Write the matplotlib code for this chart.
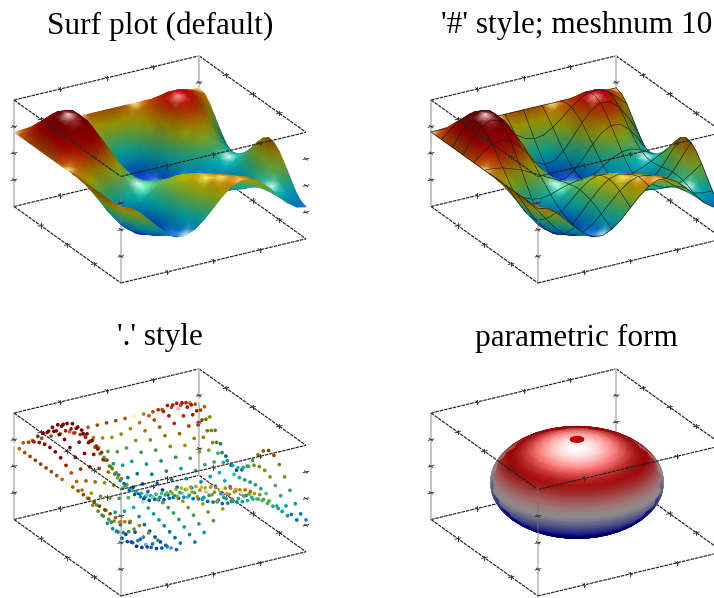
import numpy as np
import matplotlib
matplotlib.use("Agg")
import matplotlib.pyplot as plt
from matplotlib.collections import QuadMesh
from matplotlib.colors import LinearSegmentedColormap
from mpl_toolkits.mplot3d import proj3d

W, H = 714, 598
titles = ["Surf plot (default)", "'#' style; meshnum 10", "'.' style", "parametric form"]

x_values = [0.00, 0.05, 0.10, 0.15, 0.20, 0.25, 0.30, 0.35, 0.40, 0.45, 0.50,
            0.55, 0.60, 0.65, 0.70, 0.75, 0.80, 0.85, 0.90, 0.95, 1.00]
y_values = list(x_values)

z_row_00 = [.40, .40, .40, .40, .40, .40, .40, .40, .40, .40, .40, .40, .40, .40, .40, .40, .40, .40, .40, .40, .40]
z_row_01 = [.40, .48, .55, .58, .57, .53, .45, .37, .28, .23, .20, .22, .28, .35, .44, .51, .55, .55, .52, .45, .36]
z_row_02 = [.40, .56, .68, .75, .73, .64, .49, .32, .16, .05, .00, .03, .13, .27, .43, .55, .63, .63, .55, .41, .24]
z_row_03 = [.40, .62, .79, .87, .85, .72, .51, .28, .05, -.11, -.18, -.15, -.02, .17, .37, .54, .63, .62, .51, .31, .06]
z_row_04 = [.40, .66, .86, .95, .92, .76, .51, .23, -.04, -.25, -.34, -.31, -.17, .05, .28, .47, .57, .55, .41, .17, -.12]
z_row_05 = [.40, .67, .87, .97, .93, .76, .49, .18, -.12, -.34, -.45, -.43, -.29, -.08, .15, .35, .45, .43, .28, .02, -.28]
z_row_06 = [.40, .66, .85, .93, .88, .71, .44, .13, -.17, -.39, -.51, -.50, -.39, -.20, .02, .20, .29, .27, .13, -.10, -.38]
z_row_07 = [.40, .62, .77, .83, .78, .62, .37, .09, -.19, -.40, -.52, -.53, -.44, -.29, -.12, .03, .11, .10, .00, -.18, -.40]
z_row_08 = [.40, .55, .66, .69, .63, .49, .28, .05, -.18, -.37, -.48, -.51, -.46, -.36, -.24, -.13, -.06, -.05, -.10, -.20, -.32]
z_row_09 = [.40, .48, .51, .51, .44, .33, .18, .01, -.16, -.30, -.39, -.44, -.44, -.40, -.34, -.27, -.21, -.18, -.16, -.17, -.18]
z_row_10 = [.40, .39, .36, .30, .24, .15, .06, -.03, -.12, -.21, -.28, -.34, -.38, -.40, -.40, -.37, -.32, -.26, -.18, -.09, .00]
z_row_11 = [.40, .30, .20, .10, .03, -.02, -.05, -.07, -.08, -.11, -.16, -.22, -.29, -.36, -.41, -.43, -.39, -.30, -.17, .00, .18]
z_row_12 = [.40, .22, .05, -.09, -.17, -.19, -.16, -.10, -.05, -.02, -.03, -.09, -.18, -.29, -.38, -.43, -.41, -.31, -.14, .09, .32]
z_row_13 = [.40, .16, -.07, -.24, -.33, -.33, -.26, -.14, -.02, .06, .09, .04, -.06, -.19, -.32, -.39, -.39, -.29, -.11, .14, .40]
z_row_14 = [.40, .12, -.15, -.34, -.44, -.44, -.34, -.18, -.01, .12, .18, .16, .06, -.08, -.21, -.31, -.33, -.25, -.09, .14, .38]
z_row_15 = [.40, .10, -.18, -.40, -.51, -.50, -.39, -.22, -.03, .14, .23, .24, .17, .05, -.09, -.20, -.25, -.21, -.09, .09, .28]
z_row_16 = [.40, .11, -.17, -.39, -.52, -.53, -.43, -.26, -.06, .12, .25, .30, .26, .16, .04, -.08, -.16, -.17, -.11, .00, .12]
z_row_17 = [.40, .15, -.11, -.34, -.47, -.51, -.45, -.30, -.11, .07, .23, .31, .32, .27, .16, .04, -.06, -.13, -.15, -.12, -.06]
z_row_18 = [.40, .20, -.02, -.23, -.39, -.46, -.44, -.34, -.18, .00, .17, .30, .36, .34, .27, .15, .01, -.11, -.20, -.24, -.24]
z_row_19 = [.40, .28, .10, -.09, -.26, -.38, -.42, -.37, -.25, -.09, .09, .25, .35, .39, .34, .23, .08, -.09, -.23, -.33, -.36]
z_row_20 = [.40, .36, .24, .06, -.12, -.28, -.38, -.40, -.32, -.18, .00, .18, .32, .40, .38, .28, .12, -.06, -.24, -.36, -.40]
z_rows = [z_row_00, z_row_01, z_row_02, z_row_03, z_row_04, z_row_05, z_row_06,
          z_row_07, z_row_08, z_row_09, z_row_10, z_row_11, z_row_12, z_row_13,
          z_row_14, z_row_15, z_row_16, z_row_17, z_row_18, z_row_19, z_row_20]

sphere_polar_deg = [0, 6, 12, 18, 24, 30, 36, 42, 48, 54, 60, 66, 72, 78, 84, 90, 96,
                    102, 108, 114, 120, 126, 132, 138, 144, 150, 156, 162, 168, 174, 180]
sphere_azimuth_deg = [150, 160, 170, 180, 190, 200, 210, 220, 230, 240, 250, 260, 270,
                      280, 290, 300, 310, 320, 330, 340, 350, 360, 370, 380, 390, 400,
                      410, 420, 430, 440, 450, 460, 470, 480, 490, 500, 510]
sphere_cap_polar_deg = [0, 4.5]
sphere_radius = 0.81

ELEV, AZIM = 24.4, -30.0
Z_ASPECT = 0.547
VIEW = np.array([np.cos(np.radians(AZIM)) * np.cos(np.radians(ELEV)),
                 np.sin(np.radians(AZIM)) * np.cos(np.radians(ELEV)),
                 np.sin(np.radians(ELEV))])
HALF = np.array([0.104, -0.06, 0.99])
HALF = HALF / np.linalg.norm(HALF)

surf_cmap = LinearSegmentedColormap.from_list(
    "BbcyrR", [(0, 0, .5), (0, 0, 1), (0, 1, 1), (1, 1, 0), (1, 0, 0), (.5, 0, 0)])
sphere_cmap = LinearSegmentedColormap.from_list(
    "BbwrR", [(0.0, (0, 0, .5)), (0.2, (0, 0, .9)), (0.5, (1, 1, 1)),
              (0.8, (.68, 0, 0)), (1.0, (.5, 0, 0))])


def lit(base, nx, ny, nz, power, amb, dif, spec=0.95):
    norm = np.sqrt(nx**2 + ny**2 + nz**2)
    nx, ny, nz = nx / norm, ny / norm, nz / norm
    ndh = np.clip(nx * HALF[0] + ny * HALF[1] + nz * HALF[2], 0, 1)
    s = ndh**power
    rgb = base[..., :3] * (amb + dif * np.clip(nz, 0, 1))[..., None] + spec * s[..., None]
    rgb = np.clip(rgb, 0, 1)
    return np.dstack([rgb, np.ones(rgb.shape[:2])])


def make_axes(rect_origin, lims):
    ax = fig.add_axes([0, 0, .5, .5], projection="3d", proj_type="ortho")
    ax.set_xlim(*lims[0]); ax.set_ylim(*lims[1]); ax.set_zlim(-1, 1)
    ax.set_box_aspect((1, 1, Z_ASPECT))
    ax.view_init(elev=ELEV, azim=AZIM)
    ax.set_axis_off()
    ax.patch.set_visible(False)
    ax.computed_zorder = False
    ox, oy = rect_origin

    def place(s, cx, cy):
        ax.set_position([(cx - s / 2) / W, 1 - (cy + s / 2) / H, s / W, s / H])
        ax.apply_aspect()

    def corner_px(px, py):
        M = ax.get_proj()
        a, b, _ = proj3d.proj_transform(px, py, 1.0, M)
        q = ax.transData.transform((a, b))
        return q[0], H - q[1]

    x0, x1 = lims[0]
    y0, y1 = lims[1]
    place(300, 300, 300)
    l0 = corner_px(x0, y0)
    r0 = corner_px(x1, y1)
    s = 300 * 292.0 / (r0[0] - l0[0])
    place(s, 300, 300)
    l1 = corner_px(x0, y0)
    place(s, 300 + ox - l1[0], 300 + oy - l1[1])
    draw_box(ax, lims)
    return ax


def draw_box(ax, lims):
    (x0, x1), (y0, y1) = lims
    z0, z1 = -1, 1
    dark = dict(color="#222222", lw=0.85, ls=(0, (3, 0.8)), clip_on=False)
    grey = dict(color="#c4c4c4", lw=1.4, clip_on=False)
    back = [((x0, y0, z1), (x0, y1, z1)), ((x0, y1, z1), (x1, y1, z1)),
            ((x0, y0, z0), (x0, y1, z0)), ((x0, y1, z0), (x1, y1, z0))]
    front = [((x0, y0, z1), (x1, y0, z1)), ((x1, y0, z1), (x1, y1, z1)),
             ((x0, y0, z0), (x1, y0, z0)), ((x1, y0, z0), (x1, y1, z0))]
    for seg in back:
        ax.plot(*zip(*seg), zorder=1, **dark)
    for seg in front:
        ax.plot(*zip(*seg), zorder=60, **dark)
    ax.plot([x0, x0], [y0, y0], [z0, z1], zorder=1, **grey)
    ax.plot([x0, x0], [y1, y1], [z0, z1], zorder=1, **grey)
    ax.plot([x1, x1], [y0, y0], [z0, z1], zorder=60, color="#777777", alpha=0.42,
            lw=1.4, clip_on=False)
    tx = 0.015 * (x1 - x0); ty = 0.015 * (y1 - y0); tz = 0.04
    tk = dict(color="#333333", lw=0.65, clip_on=False)
    for f in (0.25, 0.5, 0.75):
        xm = x0 + f * (x1 - x0); ym = y0 + f * (y1 - y0); zm = z0 + f * (z1 - z0)
        for yy, zz, zo in ((y0, z1, 60), (y1, z1, 1), (y0, z0, 60), (y1, z0, 1)):
            ax.plot([xm, xm], [yy - ty, yy + ty], [zz, zz], zorder=zo, **tk)
            ax.plot([xm, xm], [yy, yy], [zz - tz, zz + tz], zorder=zo, **tk)
        for xx, zz, zo in ((x1, z1, 60), (x0, z1, 1), (x1, z0, 60), (x0, z0, 1)):
            ax.plot([xx - tx, xx + tx], [ym, ym], [zz, zz], zorder=zo, **tk)
            ax.plot([xx, xx], [ym, ym], [zz - tz, zz + tz], zorder=zo, **tk)
        for xx, yy, zo in ((x0, y0, 1), (x0, y1, 1), (x1, y1, 1), (x1, y0, 60)):
            ax.plot([xx - tx, xx + tx], [yy, yy], [zm, zm], zorder=zo, **tk)
            ax.plot([xx, xx], [yy - ty, yy + ty], [zm, zm], zorder=zo, **tk)


def add_mesh(ax, X, Y, Z, rgba, zorder):
    M = ax.get_proj()
    a, b, _ = proj3d.proj_transform(X.ravel(), Y.ravel(), Z.ravel(), M)
    coords = np.dstack([np.reshape(a, X.shape), np.reshape(b, X.shape)])
    mesh = QuadMesh(coords, shading="gouraud", antialiased=False,
                    transform=ax.transData, zorder=zorder, clip_on=False)
    mesh.set_array(rgba)
    mesh.do_3d_projection = lambda: 0
    ax.add_collection(mesh, autolim=False)
    return mesh


fig = plt.figure(figsize=(W / 100, H / 100), dpi=100, facecolor="white")

xv = np.array(x_values)
yv = np.array(y_values)
Zg = np.array(z_rows)
Xg, Yg = np.meshgrid(xv, yv, indexing="ij")
dzdx, dzdy = np.gradient(Zg, xv, yv)
k = Z_ASPECT / 2
surf_base = surf_cmap((Zg + 1) / 2)
surf_rgba = lit(surf_base, -dzdx * k, -dzdy * k, np.ones_like(Zg), 50, amb=0.25, dif=0.5, spec=1.25)

unit = ((0, 1), (0, 1))
n_x, n_y = Zg.shape


def surface(ax, every=None):
    for i in range(n_x - 1):
        sl = (slice(i, i + 2), slice(None, None, -1))
        add_mesh(ax, Xg[sl], Yg[sl], Zg[sl], surf_rgba[sl], 2 + i)
        if every:
            style = dict(color="#1a1a1a", lw=0.45, zorder=2.5 + i, clip_on=False)
            for j in range(0, n_y, every):
                ax.plot(Xg[i:i + 2, j], Yg[i:i + 2, j], Zg[i:i + 2, j], **style)
            if i % every == 0:
                ax.plot(Xg[i], Yg[i], Zg[i], **style)
    if every:
        ax.plot(Xg[-1], Yg[-1], Zg[-1], color="#1a1a1a", lw=0.45, zorder=40, clip_on=False)


ax1 = make_axes((14, 100), unit)
surface(ax1)
ax2 = make_axes((431, 100), unit)
surface(ax2, every=2)

ax3 = make_axes((14, 413), unit)
ax3.scatter(Xg.ravel(), Yg.ravel(), Zg.ravel(), c=surf_rgba.reshape(-1, 4), s=7,
            linewidths=0, depthshade=False, zorder=5, clip_on=False)

ax4 = make_axes((431, 413), ((-1, 1), (-1, 1)))
polar = np.radians(sphere_polar_deg)
azi = np.radians(sphere_azimuth_deg)
P, A = np.meshgrid(polar, azi, indexing="ij")
Xs = sphere_radius * np.sin(P) * np.cos(A)
Ys = sphere_radius * np.sin(P) * np.sin(A)
Zs = sphere_radius * np.cos(P)
# surface normal in the stretched box: gradient of the ellipsoid
nxs = Xs / (sphere_radius / 2)
nys = Ys / (sphere_radius / 2)
nzs = Zs / (sphere_radius * k)
sphere_base = sphere_cmap((np.cos(P) + 1) / 2)
length = np.sqrt(nxs**2 + nys**2 + nzs**2)
sphere_rgba = lit(sphere_base, nxs, nys, nzs, 20, amb=0.55, dif=0.4, spec=1.0)
facing = (nxs * VIEW[0] + nys * VIEW[1] + nzs * VIEW[2]) / length > -0.1
for r in range(len(polar) - 1):
    keep = np.where(facing[r, :-1] | facing[r, 1:] | facing[r + 1, :-1] | facing[r + 1, 1:])[0]
    if len(keep) == 0:
        continue
    sl = (slice(r, r + 2), slice(keep[0], keep[-1] + 2))
    add_mesh(ax4, Xs[sl], Ys[sl], Zs[sl], sphere_rgba[sl], 5)

cap = np.radians(sphere_cap_polar_deg)
Pc, Ac = np.meshgrid(cap, azi, indexing="ij")
cap_rgba = np.zeros(Pc.shape + (4,))
cap_rgba[...] = (0.75, 0, 0, 1)
add_mesh(ax4, sphere_radius * np.sin(Pc) * np.cos(Ac), sphere_radius * np.sin(Pc) * np.sin(Ac),
         sphere_radius * np.cos(Pc), cap_rgba, 6)

title_pos = [(160, 26), (577, 26), (160, 338), (576, 338)]
for text, (tx, ty) in zip(titles, title_pos):
    fig.text(tx / W, 1 - ty / H, text, ha="center", va="center",
             family="Liberation Serif", fontsize=22.5, color="black")

fig.savefig("out.png", dpi=100, facecolor="white")
